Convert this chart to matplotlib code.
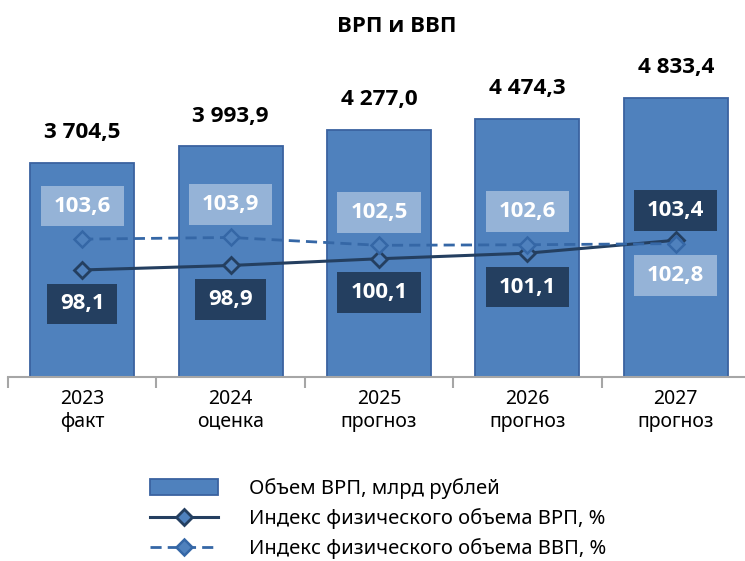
import matplotlib
matplotlib.use("Agg")
import matplotlib.pyplot as plt
from matplotlib.patches import Patch
from matplotlib.lines import Line2D

plt.rcParams['font.family'] = ['Noto Sans', 'DejaVu Sans']

years = ["2023", "2024", "2025", "2026", "2027"]
kinds = ["факт", "оценка", "прогноз", "прогноз", "прогноз"]
grp_volume = [3704.5, 3993.9, 4277.0, 4474.3, 4833.4]
grp_index = [98.1, 98.9, 100.1, 101.1, 103.4]
gdp_index = [103.6, 103.9, 102.5, 102.6, 102.8]
vol_labels = ["3 704,5", "3 993,9", "4 277,0", "4 474,3", "4 833,4"]
grp_labels = ["98,1", "98,9", "100,1", "101,1", "103,4"]
gdp_labels = ["103,6", "103,9", "102,5", "102,6", "102,8"]

title = "ВРП и ВВП"
legend_labels = ["Объем ВРП, млрд рублей",
                 "Индекс физического объема ВРП, %",
                 "Индекс физического объема ВВП, %"]

BAR = "#4F81BD"
BAR_EDGE = "#3A62A0"
DARK = "#243F60"
LIGHT = "#95B3D7"
DASH = "#3567A6"

BOLD_FAM = ['Open Sans', 'Roboto', 'DejaVu Sans']

W, H = 745, 561
fig = plt.figure(figsize=(W / 100, H / 100), dpi=100)
ax = fig.add_axes([8 / W, 1 - 377 / H, 742 / W, 297 / H])
ax2 = ax.twinx()

x = list(range(len(years)))
ax.bar(x, grp_volume, width=0.70, color=BAR, edgecolor=BAR_EDGE, linewidth=1.3, zorder=2)
ax.set_xlim(-0.5, 4.5)
ax.set_ylim(0, 5141)
ax.set_yticks([])
for s in ["top", "left", "right"]:
    ax.spines[s].set_visible(False)
    ax2.spines[s].set_visible(False)
ax2.spines["bottom"].set_visible(False)
ax.spines["bottom"].set_color("#A6A6A6")
ax.spines["bottom"].set_linewidth(1.5)
ax.set_xticks(x)
ax.set_xticklabels([f"{y}\n{k}" for y, k in zip(years, kinds)], fontsize=14,
                   linespacing=1.15, color="#000000")
ax.tick_params(axis="x", which="major", length=0, pad=9)
ax.set_xticks([i - 0.5 for i in range(len(years) + 1)], minor=True)
ax.tick_params(axis="x", which="minor", length=8, width=1.5, color="#A6A6A6", direction="out")

for xi, v, lab in zip(x, grp_volume, vol_labels):
    ax.annotate(lab, xy=(xi, v), xytext=(0, 30), textcoords="offset pixels",
                ha="center", va="center", fontsize=16.2, fontweight="bold", color="black",
                family=BOLD_FAM)

ax2.set_ylim(79.0, 132.0)
ax2.set_yticks([])
ax2.plot(x, grp_index, color=DARK, lw=2.2, marker="D", ms=8, mfc=BAR, mec=DARK, mew=2, zorder=3)
ax2.plot(x, gdp_index, color=DASH, lw=2.0, ls=(0, (4, 2.2)), marker="D", ms=8, mfc=BAR, mec=DASH,
         mew=1.8, zorder=3)

# label offsets in pixels (positive = up)
grp_off = [-34, -34, -34, -34, 30]
gdp_off = [33, 33, 33, 33, -32]
box_kw = dict(boxstyle="square,pad=0.58", ec="none", mutation_aspect=0.76)
for xi, v, lab, off in zip(x, grp_index, grp_labels, grp_off):
    ax2.annotate(lab, xy=(xi, v), xytext=(0, off), textcoords="offset pixels",
                 ha="center", va="center", fontsize=16, fontweight="bold", color="white",
                 family=BOLD_FAM, bbox=dict(fc=DARK, **box_kw), zorder=5)
for xi, v, lab, off in zip(x, gdp_index, gdp_labels, gdp_off):
    ax2.annotate(lab, xy=(xi, v), xytext=(0, off), textcoords="offset pixels",
                 ha="center", va="center", fontsize=16, fontweight="bold", color="white",
                 family=BOLD_FAM, bbox=dict(fc=LIGHT, **box_kw), zorder=5)

fig.text(397 / W, 1 - 26 / H, title, ha="center", va="center", fontsize=16, fontweight="bold",
         family=BOLD_FAM)

handles = [
    Patch(facecolor=BAR, edgecolor=BAR_EDGE, linewidth=1.3),
    Line2D([], [], color=DARK, lw=2.2, marker="D", ms=8, mfc=BAR, mec=DARK, mew=2),
    Line2D([], [], color=DASH, lw=2.0, ls=(0, (4, 2.2)), marker="D", ms=8, mfc=BAR, mec=DASH, mew=1.8),
]
fig.legend(handles, legend_labels, loc="upper left", bbox_to_anchor=(150 / W, 1 - 478 / H),
           frameon=False, fontsize=14.5, handlelength=3.4, handleheight=0.8, handletextpad=1.5,
           labelspacing=0.45, borderpad=0, borderaxespad=0)

fig.savefig("out.png", dpi=100)
